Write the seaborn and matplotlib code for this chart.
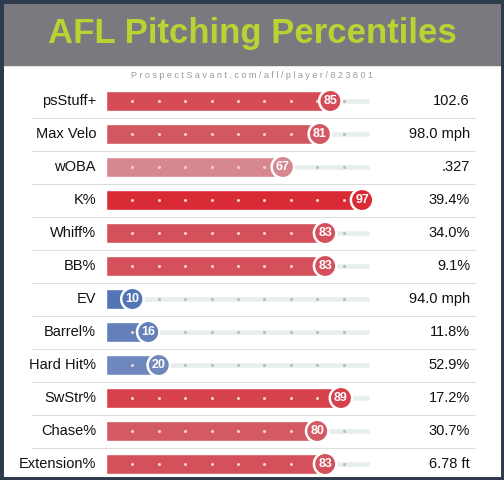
import matplotlib
matplotlib.use("Agg")
import matplotlib.pyplot as plt
import seaborn as sns
import numpy as np
from matplotlib.colors import LinearSegmentedColormap

metrics = ["psStuff+", "Max Velo", "wOBA", "K%", "Whiff%", "BB%", "EV", "Barrel%", "Hard Hit%", "SwStr%", "Chase%", "Extension%"]
percentiles = [85, 81, 67, 97, 83, 83, 10, 16, 20, 89, 80, 83]
stat_values = ["102.6", "98.0 mph", ".327", "39.4%", "34.0%", "9.1%", "94.0 mph", "11.8%", "52.9%", "17.2%", "30.7%", "6.78 ft"]

sns.set_theme(style="white")
plt.rcParams['font.family'] = ['Liberation Sans', 'DejaVu Sans']

W, H = 504, 480
fig = plt.figure(figsize=(W/100, H/100), dpi=100)
fig.patch.set_facecolor("white")

def px(x0, y0, x1, y1):
    return [x0/W, 1-y1/H, (x1-x0)/W, (y1-y0)/H]

fig.patches.append(plt.Rectangle((0, 1-65/H), 1, 65/H, transform=fig.transFigure, color="#7b797f", zorder=0))
fig.text(0.5, 1-33/H, "AFL Pitching Percentiles", ha="center", va="center", color="#b8d432", fontsize=25, fontweight="bold")
fig.text(0.5, 1-75/H, " ".join(list("ProspectSavant.com/afl/player/823801")), ha="center", va="center", color="#999999", fontsize=6.5)
fig.patches.append(plt.Rectangle((0, 0), 1, 1, transform=fig.transFigure, fill=False, lw=5, ec="#2d3b4c", zorder=10))

cmap = LinearSegmentedColormap.from_list("sv", ["#3a62ae", "#6e88bd", "#c4c4c4", "#d8a0a6", "#d35a64", "#d9232e"], N=256)
colors = [cmap(p/100) for p in percentiles]

row = 33
top = 84.5
ax = fig.add_axes(px(106, top, 370, top + 12*row))
n = len(metrics)
ax.barh(np.arange(n), [100]*n, height=6/row, color="#e7eeee", zorder=0)
sns.barplot(x=percentiles, y=metrics, hue=metrics, palette=colors, legend=False, orient="h", width=20/row, ax=ax, zorder=1, saturation=1)
ax.set_xlim(0, 100)
ax.set_ylim(n - 0.5, -0.5)
for i in range(n):
    for d in range(10, 100, 10):
        ax.plot(d, i, marker="o", ms=1.2, color="#bbbbbb" if d > percentiles[i] else "#f3d0d0", zorder=2)
ax.scatter(percentiles, np.arange(n), s=260, c=colors, edgecolors="white", linewidths=1.8, zorder=3, clip_on=False)
for i, p in enumerate(percentiles):
    ax.text(p, i, str(p), ha="center", va="center", color="white", fontsize=9, fontweight="bold", zorder=4)
ax.axis("off")

for i in range(n):
    yc = top + row*(i + 0.5)
    fig.text(96/W, 1-yc/H, metrics[i], ha="right", va="center", fontsize=10.5, color="#111111")
    fig.text(470/W, 1-yc/H, stat_values[i], ha="right", va="center", fontsize=10.5, color="#111111")
    if i < n - 1:
        ys = 1 - (top + row*(i+1))/H
        fig.add_artist(plt.Line2D([32/W, 475/W], [ys, ys], color="#dddddd", lw=0.8, transform=fig.transFigure))

fig.savefig("out.png", dpi=100)
